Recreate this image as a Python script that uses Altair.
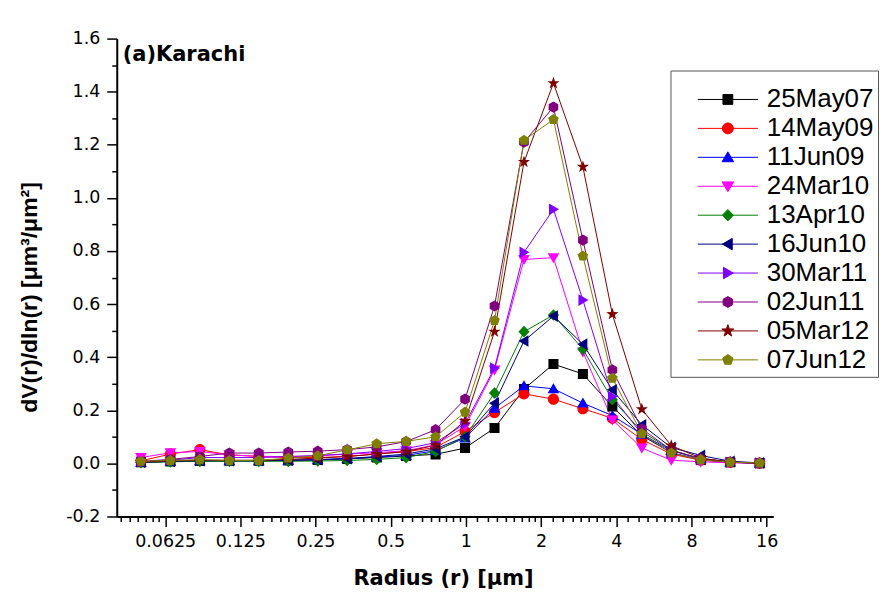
import altair as alt
import pandas as pd

# ---------------- data ----------------
radius = [0.050000, 0.065604, 0.086077, 0.112939, 0.148184, 0.194429, 0.255105,
          0.334716, 0.439173, 0.576227, 0.756052, 0.991996, 1.301571, 1.707757,
          2.240702, 2.939966, 3.857452, 5.061260, 6.640745, 8.713145, 11.432287, 15.0]

series_names = ["25May07", "14May09", "11Jun09", "24Mar10", "13Apr10",
                "16Jun10", "30Mar11", "02Jun11", "05Mar12", "07Jun12"]

series_colors = ["#000000", "#FF0000", "#0000FF", "#FF00FF", "#008000",
                 "#000080", "#8000FF", "#800080", "#800000", "#808000"]

v_25May07 = [0.004, 0.007, 0.009, 0.010, 0.010, 0.011, 0.013, 0.017, 0.022, 0.028, 0.034,
             0.058, 0.133, 0.280, 0.374, 0.337, 0.214, 0.105, 0.040, 0.013, 0.004, 0.001]
v_14May09 = [0.010, 0.035, 0.052, 0.032, 0.026, 0.022, 0.022, 0.026, 0.036, 0.044, 0.060,
             0.120, 0.192, 0.262, 0.242, 0.206, 0.170, 0.090, 0.035, 0.012, 0.004, 0.001]
v_11Jun09 = [0.004, 0.008, 0.010, 0.010, 0.010, 0.012, 0.014, 0.018, 0.024, 0.030, 0.048,
             0.096, 0.208, 0.292, 0.281, 0.227, 0.180, 0.110, 0.048, 0.017, 0.005, 0.001]
v_24Mar10 = [0.022, 0.040, 0.045, 0.032, 0.027, 0.025, 0.028, 0.035, 0.040, 0.048, 0.070,
             0.140, 0.352, 0.768, 0.775, 0.420, 0.164, 0.058, 0.012, 0.006, 0.002, 0.001]
v_13Apr10 = [0.003, 0.006, 0.008, 0.008, 0.008, 0.008, 0.009, 0.011, 0.015, 0.022, 0.045,
             0.100, 0.265, 0.496, 0.559, 0.430, 0.240, 0.120, 0.050, 0.018, 0.005, 0.001]
v_16Jun10 = [0.004, 0.008, 0.010, 0.010, 0.010, 0.012, 0.014, 0.018, 0.026, 0.035, 0.055,
             0.100, 0.227, 0.461, 0.555, 0.449, 0.277, 0.145, 0.060, 0.030, 0.008, 0.002]
v_30Mar11 = [0.006, 0.012, 0.022, 0.022, 0.022, 0.026, 0.030, 0.036, 0.045, 0.056, 0.078,
             0.150, 0.359, 0.795, 0.957, 0.615, 0.252, 0.110, 0.040, 0.015, 0.004, 0.001]
v_02Jun11 = [0.008, 0.015, 0.026, 0.039, 0.039, 0.043, 0.046, 0.052, 0.062, 0.082, 0.127,
             0.242, 0.593, 1.210, 1.342, 0.841, 0.352, 0.130, 0.050, 0.018, 0.005, 0.001]
v_05Mar12 = [0.005, 0.010, 0.012, 0.012, 0.012, 0.015, 0.020, 0.026, 0.035, 0.045, 0.068,
             0.160, 0.496, 1.135, 1.432, 1.117, 0.562, 0.204, 0.067, 0.020, 0.005, 0.001]
v_07Jun12 = [0.008, 0.011, 0.014, 0.011, 0.011, 0.020, 0.029, 0.051, 0.074, 0.083, 0.100,
             0.193, 0.538, 1.217, 1.295, 0.781, 0.321, 0.112, 0.039, 0.014, 0.004, 0.002]

series_values = [v_25May07, v_14May09, v_11Jun09, v_24Mar10, v_13Apr10,
                 v_16Jun10, v_30Mar11, v_02Jun11, v_05Mar12, v_07Jun12]

x_major = [0.0625, 0.125, 0.25, 0.5, 1, 2, 4, 8, 16]

# ---------------- build table ----------------
rows = []
for name, vals in zip(series_names, series_values):
    for r, v in zip(radius, vals):
        rows.append({"radius": r, "value": v, "series": name})
df = pd.DataFrame(rows)

# marker shapes (unit paths); the leading open sub-path is the legend line,
# invisible on the plot because plot markers have no stroke
LINE = "M-5.5,0L5.5,0"
shape_paths = [
    "M-0.9,-0.9L0.9,-0.9L0.9,0.9L-0.9,0.9Z",                      # square
    "M1,0A1,1,0,1,1,-1,0A1,1,0,1,1,1,0Z",                           # circle
    "M0,-1L1.05,0.8L-1.05,0.8Z",                                   # triangle up
    "M0,1L1.05,-0.8L-1.05,-0.8Z",                                  # triangle down
    "M0,-1.05L1,0L0,1.05L-1,0Z",                                   # diamond
    "M-1,0L0.8,-1.05L0.8,1.05Z",                                   # triangle left
    "M1,0L-0.8,-1.05L-0.8,1.05Z",                                  # triangle right
    "M0,-1L0.866,-0.5L0.866,0.5L0,1L-0.866,0.5L-0.866,-0.5Z",      # hexagon
    "M0,-1.15L0.27,-0.37L1.09,-0.36L0.44,0.14L0.68,0.93L0,0.46L-0.68,0.93L-0.44,0.14L-1.09,-0.36L-0.27,-0.37Z",  # star
    "M0,-1L0.951,-0.309L0.588,0.809L-0.588,0.809L-0.951,-0.309Z",  # pentagon
]
shape_range = [LINE + p for p in shape_paths]

# axis tick values
x_ticks = []
for n in range(-5, 5):
    base = 2.0 ** n
    for k in range(0, 9):
        t = base if k == 0 else base * (1 + k / 9)
        if 0.04 <= t <= 17:
            x_ticks.append(t)
y_ticks = [round(-0.2 + 0.1 * i, 1) for i in range(19)]

major_test = "indexof(" + str(x_major) + ", datum.value) >= 0"
y_major_test = "abs(datum.value*5 - round(datum.value*5)) < 0.000001"

x_axis = alt.Axis(
    values=x_ticks,
    labelExpr=major_test + " ? '' + datum.value : ''",
    tickSize={"condition": {"test": major_test, "value": 10}, "value": 5},
    labelOverlap=False, labelFlush=False, grid=False,
    domainColor="black", domainWidth=2, tickColor="black", tickWidth=1.5,
    labelFont="DejaVu Sans", labelFontSize=17.5, labelColor="black", labelPadding=6,
    title="Radius (r) [μm]", titleFont="DejaVu Sans", titleFontWeight="bold",
    titleFontSize=21, titleColor="black", titleX=327, titleY=62,
    titleBaseline="middle", titleAlign="center",
)
y_axis = alt.Axis(
    values=y_ticks,
    labelExpr=y_major_test + " ? replace(format(datum.value, '.1f'), '\u2212', '-') : ''",
    tickSize={"condition": {"test": y_major_test, "value": 10}, "value": 5},
    labelOverlap=False, labelFlush=False, grid=False,
    domainColor="black", domainWidth=2, tickColor="black", tickWidth=1.5,
    labelFont="DejaVu Sans", labelFontSize=17.5, labelColor="black", labelPadding=7,
    title="dV(r)/dln(r) [μm³/μm²]", titleFont="Liberation Sans", titleFontWeight="bold",
    titleFontSize=23, titleColor="black", titleX=-87, titleY=259, titleAngle=270,
    titleBaseline="middle", titleAlign="center",
)

x_enc = alt.X("radius:Q", scale=alt.Scale(type="log", base=2, domain=[0.04, 17], nice=False), axis=x_axis)
y_enc = alt.Y("value:Q", scale=alt.Scale(domain=[-0.2, 1.6], nice=False, zero=False), axis=y_axis)

color_scale = alt.Scale(domain=series_names, range=series_colors)
# same mapping listed in reverse order, so the (hidden) line legend stays separate
line_color_scale = alt.Scale(domain=series_names[::-1], range=series_colors[::-1])

lines = alt.Chart(df).mark_line(strokeWidth=1).encode(
    x=x_enc, y=y_enc,
    color=alt.Color("series:N", scale=line_color_scale, legend=None),
    detail="series:N",
)

legend = alt.Legend(
    title=" " * 66, titleFont="DejaVu Sans", titleFontSize=10, titlePadding=2, titleLimit=600,
    orient="none", legendX=555, legendY=32,
    strokeColor="#555555", fillColor="white", padding=4,
    labelFont="Liberation Sans", labelFontSize=26, labelColor="black",
    symbolSize=120, symbolStrokeWidth=1, symbolOffset=40.5, labelOffset=26,
    rowPadding=3, labelLimit=300,
)

points = alt.Chart(df).mark_point(filled=True, size=125, opacity=1).encode(
    x=x_enc, y=y_enc,
    fill=alt.Fill("series:N", scale=color_scale, legend=legend),
    stroke=alt.Stroke("series:N", scale=color_scale, legend=legend),
    shape=alt.Shape("series:N", scale=alt.Scale(domain=series_names, range=shape_range), legend=legend),
    strokeWidth=alt.value(0),
)

chart = alt.layer(lines, points).properties(
    width=658, height=479,
    background="white",
    autosize=alt.AutoSizeParams(type="none"),
    padding={"left": 109, "top": 30, "right": 113, "bottom": 72},
    title=alt.TitleParams(text="(a)Karachi", anchor="start", font="DejaVu Sans",
                          fontWeight="bold", fontSize=21, color="black",
                          dx=6, dy=46, offset=0, baseline="middle", frame="group"),
).configure_view(stroke=None)

chart.save("out.html", embed_options={"renderer": "svg", "actions": False})
